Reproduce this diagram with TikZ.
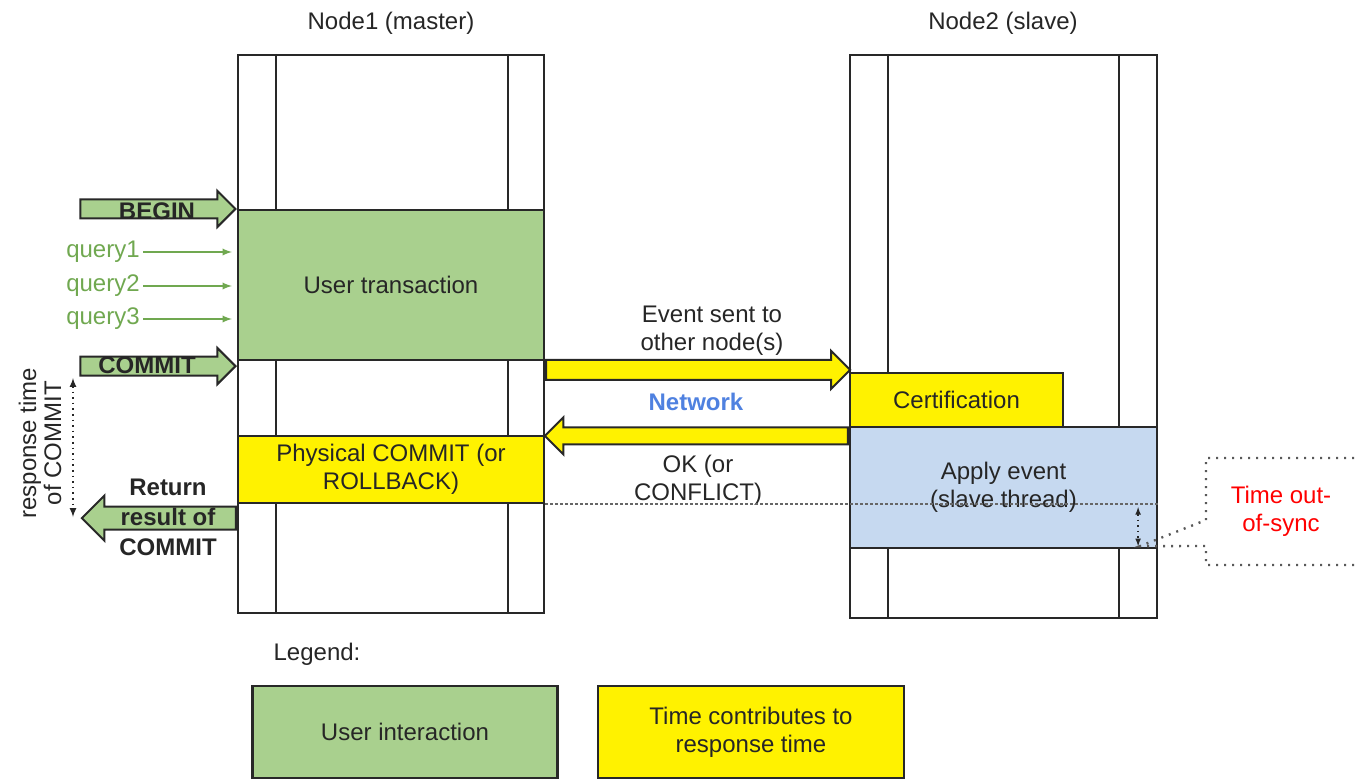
\documentclass[tikz,border=0pt]{standalone}
\usepackage{fontspec}
\setmainfont{Liberation Sans}
\usepackage{tikz}
\usetikzlibrary{shapes,shapes.arrows,arrows,calc,positioning}

\definecolor{usergreen}{RGB}{169,208,142}
\definecolor{applyblue}{RGB}{198,217,240}
\definecolor{querygreen}{RGB}{112,168,80}
\definecolor{netblue}{RGB}{79,129,224}
\definecolor{linegray}{RGB}{40,40,40}

\begin{document}
\begin{tikzpicture}[
  x=1pt,
  y=-1pt,
  font=\fontsize{24}{28}\selectfont
]

  \tikzstyle{lane}=[draw=linegray,line width=2.2pt,rectangle,inner sep=0pt]
  \tikzstyle{stepbox}=[draw=linegray,line width=2.2pt,rectangle,inner sep=0pt,align=center,text=black!85]
  \tikzstyle{userbox}=[stepbox,fill=usergreen]
  \tikzstyle{timebox}=[stepbox,fill=yellow]
  \tikzstyle{applybox}=[stepbox,fill=applyblue]
  \tikzstyle{fatarrow}=[draw=linegray,line width=2pt,single arrow,single arrow tip angle=90,inner sep=0pt,text depth=0pt,minimum width=1pt]
  \tikzstyle{greenarrow}=[fatarrow,fill=usergreen]
  \tikzstyle{yellowarrow}=[fatarrow,fill=yellow]
  \tikzstyle{titlenode}=[text=black!85]
  \tikzstyle{cmdnode}=[font=\fontsize{24}{30}\selectfont\bfseries,text=black!85]
  \tikzstyle{querynode}=[text=querygreen]
  \tikzstyle{query}=[draw=querygreen,line width=2.2pt,->,>=latex,shorten >=5pt]
  \tikzstyle{spanarrow}=[draw=black!85,line width=2pt,dash pattern=on 1.6pt off 4pt,<->,>=latex]
  \tikzstyle{syncline}=[draw=black!60,line width=1.4pt,dash pattern=on 3pt off 2pt]
  \tikzstyle{callout}=[draw=black!65,line width=2.4pt,dash pattern=on 2pt off 6pt]

  \useasboundingbox (0,0) rectangle (1360,780);

  % lanes
  \node[lane,minimum width=306pt,minimum height=558pt] (n1) at (391,334) {};
  \node[lane,minimum width=307pt,minimum height=563pt] (n2) at (1003.5,336.5) {};
  \draw[lane] ([xshift=39pt]n1.north west) -- ([xshift=39pt]n1.south west);
  \draw[lane] ([xshift=-37pt]n1.north east) -- ([xshift=-37pt]n1.south east);
  \draw[lane] ([xshift=39pt]n2.north west) -- ([xshift=39pt]n2.south west);
  \draw[lane] ([xshift=-39pt]n2.north east) -- ([xshift=-39pt]n2.south east);

  \node[titlenode] (t1) at (391,23) {Node1 (master)};
  \node[titlenode] (t2) at (1003,23) {Node2 (slave)};

  % steps
  \node[userbox,minimum width=306pt,minimum height=150pt] (ut) at (391,285) {User transaction};
  \node[timebox,minimum width=306pt,minimum height=67pt] (pc) at (391,469.5) {Physical COMMIT (or\\ROLLBACK)};
  \node[timebox,minimum width=213pt,minimum height=54pt] (cert) at (956.5,400) {Certification};
  \node[applybox,minimum width=307pt,minimum height=121pt] (ae) at (1003.5,487.5) {Apply event\\(slave thread)};

  % user side
  \node[greenarrow,text height=17pt,single arrow head extend=8.5pt,minimum height=155pt,anchor=tip] (beginarr) at (ut.north west) {};
  \node[greenarrow,text height=17pt,single arrow head extend=8.5pt,minimum height=155pt,anchor=tip] (commitarr) at ([yshift=-5pt]ut.south west) {};
  \node[greenarrow,text height=21pt,single arrow head extend=11pt,minimum height=154pt,shape border rotate=180,anchor=tail] (retarr) at ([yshift=-14pt]pc.south west) {};
  \node[cmdnode] (begintxt) at (157,211) {BEGIN};
  \node[cmdnode] (committxt) at (147,365) {COMMIT};
  \node[cmdnode,align=center] (rettxt) at (168,517) {Return\\result of\\COMMIT};

  \node[querynode] (q1) at (103,252) {query1};
  \node[querynode] (q2) at (103,286) {query2};
  \node[querynode] (q3) at (103,319) {query3};
  \draw[query] (q1.east) -- (q1.east -| ut.west);
  \draw[query] (q2.east) -- (q2.east -| ut.west);
  \draw[query] (q3.east) -- (q3.east -| ut.west);

  \node[titlenode,rotate=90,align=center,font=\fontsize{24}{25}\selectfont] (resp) at (40,443) {response time\\of COMMIT};
  \coordinate (rtop) at (73,378);
  \coordinate (rbot) at (73,517);
  \draw[spanarrow] (rtop) -- (rbot);

  % network
  \node[yellowarrow,text height=18pt,single arrow head extend=9pt,minimum height=304pt,anchor=tail] (evtarr) at ([yshift=2pt]ut.south east |- cert.north) {};
  \node[yellowarrow,text height=15pt,single arrow head extend=10pt,minimum height=303pt,shape border rotate=180,anchor=tail] (okarr) at ([yshift=-10pt]ae.north west) {};
  \node[titlenode,align=center] (evttxt) at (712,331) {Event sent to\\other node(s)};
  \node[font=\fontsize{24}{28}\selectfont\bfseries,text=netblue] (net) at (696,402) {Network};
  \node[titlenode,align=center] (oktxt) at (698,480) {OK (or\\CONFLICT)};

  % out of sync
  \draw[syncline] (pc.south east) -- (pc.south east -| ae.east);
  \draw[spanarrow,line width=1.6pt,shorten <=3pt,shorten >=3pt] ([xshift=-20pt]pc.south east -| ae.east) -- ([xshift=-20pt]ae.south east);
  \node[text=red,align=center] (tos) at (1281,511) {Time out-\\of-sync};
  \draw[callout] (1362,458) -- (1206,458) -- (1206,520) -- ([xshift=-18pt,yshift=3pt]ae.south east) -- (1206,546) -- (1206,565) -- (1362,565);

  % legend
  \node[titlenode] (leg) at (317,654) {Legend:};
  \node[userbox,minimum width=305pt,minimum height=92pt] (legu) at (405,732) {User interaction};
  \node[timebox,minimum width=306pt,minimum height=92pt] (legt) at (751,732) {Time contributes to\\response time};

\end{tikzpicture}
\end{document}
